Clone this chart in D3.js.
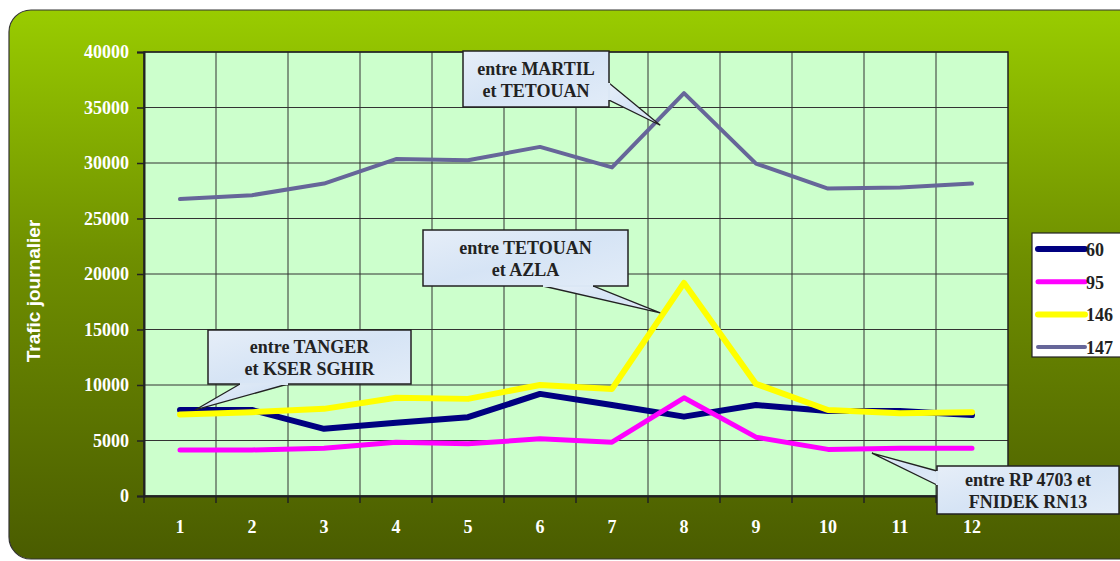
<!DOCTYPE html>
<html>
<head>
<meta charset="utf-8">
<script src="https://cdn.jsdelivr.net/npm/d3@7"></script>
<style>
  body { margin: 0; background: #fff; }
  svg { display: block; }
  .serif { font-family: 'Liberation Serif', 'Times New Roman', serif; font-weight: bold; }
  .sans { font-family: 'Liberation Sans', Arial, sans-serif; font-weight: bold; }
</style>
</head>
<body>
<div id="chart"></div>
<script>
'use strict'
// données
let categories = ['1','2','3','4','5','6','7','8','9','10','11','12'];
let seriesNames = ['60','95','146','147'];
let seriesColors = ['#000080','#ff00ff','#ffff00','#666699'];
let seriesWidths = [6, 5, 6, 4];
let route60  = [7750, 7750, 6050, 6600, 7100, 9200, 8200, 7150, 8200, 7650, 7650, 7300];
let route95  = [4150, 4150, 4300, 4850, 4700, 5150, 4850, 8850, 5300, 4200, 4300, 4300];
let route146 = [7350, 7550, 7850, 8850, 8750, 10000, 9650, 19200, 10100, 7750, 7450, 7550];
let route147 = [26750, 27100, 28150, 30350, 30250, 31450, 29600, 36300, 29950, 27700, 27800, 28150];
let yTicks = [0, 5000, 10000, 15000, 20000, 25000, 30000, 35000, 40000];
// bulles : texte, boîte, base de la pointe, pointe (position de catégorie, valeur)
let callouts = [
  {lines: ['entre MARTIL', 'et TETOUAN'], box: [463, 51, 146, 56], base: [[609, 83], [609, 100]], tip: [7.67, 33400]},
  {lines: ['entre TETOUAN', 'et AZLA'], box: [423, 230, 205, 56], base: [[543, 286], [593, 286]], tip: [7.67, 16500]},
  {lines: ['entre TANGER', 'et KSER SGHIR'], box: [208, 330, 203, 54], base: [[240, 384], [288, 384]], tip: [1.21, 7750]},
  {lines: ['entre RP 4703 et', 'FNIDEK RN13'], box: [937, 466, 182, 48], base: [[937, 471], [937, 485]], tip: [10.61, 3870]}
];
let allSeries = [route60, route95, route146, route147];

let W = 1120, H = 561;
let margin = {top: 52, right: 112, bottom: 65, left: 144};
let width = W - margin.left - margin.right;   // 864
let height = H - margin.top - margin.bottom;  // 444

let svg = d3.select('#chart').append('svg')
  .attr('width', W).attr('height', H);

let defs = svg.append('defs');
let bg = defs.append('linearGradient').attr('id', 'bgGrad')
  .attr('x1', 0).attr('y1', 0).attr('x2', 0).attr('y2', 1);
bg.append('stop').attr('offset', '0%').attr('stop-color', '#99cc00');
bg.append('stop').attr('offset', '45%').attr('stop-color', '#6f8f00');
bg.append('stop').attr('offset', '100%').attr('stop-color', '#4a5c00');

let cg = defs.append('linearGradient').attr('id', 'calloutGrad')
  .attr('x1', 0).attr('y1', 0).attr('x2', 1).attr('y2', 1);
cg.append('stop').attr('offset', '0%').attr('stop-color', '#e6eef8');
cg.append('stop').attr('offset', '50%').attr('stop-color', '#d6e4f5');
cg.append('stop').attr('offset', '100%').attr('stop-color', '#e2ecf8');

// cadre arrondi
svg.append('rect')
  .attr('x', 9).attr('y', 10)
  .attr('width', 1140).attr('height', 549)
  .attr('rx', 22).attr('ry', 22)
  .attr('fill', 'url(#bgGrad)')
  .attr('stroke', '#333').attr('stroke-width', 1.2);

let g = svg.append('g')
  .attr('transform', 'translate(' + margin.left + ',' + margin.top + ')');

let x = d3.scaleBand().domain(categories).range([0, width]);
let y = d3.scaleLinear().domain([0, 40000]).range([height, 0]);
let xPos = function(i) { return x(categories[i]) + x.bandwidth() / 2; };
let xAt = function(pos) { return x(categories[0]) + x.bandwidth() / 2 + (pos - 1) * x.bandwidth(); };

g.append('rect')
  .attr('width', width).attr('height', height)
  .attr('fill', '#ccffcc');

// grille horizontale
g.selectAll('.hgrid')
  .data(yTicks)
  .enter().append('line')
  .attr('class', 'hgrid')
  .attr('x1', 0).attr('x2', width)
  .attr('y1', function(d) { return y(d); })
  .attr('y2', function(d) { return y(d); })
  .attr('stroke', '#333').attr('stroke-width', 1);

// grille verticale
g.selectAll('.vgrid')
  .data(categories.slice(1))
  .enter().append('line')
  .attr('class', 'vgrid')
  .attr('x1', function(d) { return x(d); })
  .attr('x2', function(d) { return x(d); })
  .attr('y1', 0).attr('y2', height)
  .attr('stroke', '#333').attr('stroke-width', 1);

g.append('rect')
  .attr('width', width).attr('height', height)
  .attr('fill', 'none')
  .attr('stroke', '#222').attr('stroke-width', 1.5);

let yAxis = d3.axisLeft(y).tickValues(yTicks).tickSize(7).tickPadding(8).tickFormat(d3.format('d'));
let yAxisG = g.append('g').call(yAxis);
yAxisG.attr('font-family', null).attr('font-size', null);
yAxisG.select('.domain').attr('stroke', '#222').attr('stroke-width', 2);
yAxisG.selectAll('line').attr('stroke', '#222').attr('stroke-width', 1.5);
yAxisG.selectAll('text')
  .attr('class', 'serif')
  .attr('fill', '#ffffff')
  .style('font-size', '18px');

let xAxis = d3.axisBottom(x).tickSize(0).tickPadding(24);
let xAxisG = g.append('g').attr('transform', 'translate(0,' + height + ')').call(xAxis);
xAxisG.attr('font-family', null).attr('font-size', null);
xAxisG.select('.domain').attr('stroke', '#222').attr('stroke-width', 2);
xAxisG.selectAll('text')
  .attr('class', 'serif')
  .attr('fill', '#ffffff')
  .style('font-size', '18px');
// petits traits sous l'axe x
g.selectAll('.xtick')
  .data(categories.concat(['end']))
  .enter().append('line')
  .attr('class', 'xtick')
  .attr('x1', function(d, i) { return i * x.bandwidth(); })
  .attr('x2', function(d, i) { return i * x.bandwidth(); })
  .attr('y1', height).attr('y2', height + 7)
  .attr('stroke', '#222').attr('stroke-width', 1.5);

// courbes
let line = d3.line()
  .x(function(d, i) { return xPos(i); })
  .y(function(d) { return y(d); });

allSeries.forEach(function(s, k) {
  g.append('path')
    .datum(s)
    .attr('fill', 'none')
    .attr('stroke', seriesColors[k])
    .attr('stroke-width', seriesWidths[k])
    .attr('stroke-linejoin', 'round')
    .attr('stroke-linecap', 'round')
    .attr('d', line);
});

// bulles
callouts.forEach(function(c) {
  let bx = c.box[0], by = c.box[1], bw = c.box[2], bh = c.box[3];
  let tx = margin.left + xAt(c.tip[0]);
  let ty = margin.top + y(c.tip[1]);
  svg.append('polygon')
    .attr('points', [c.base[0], [tx, ty], c.base[1]].map(function(p) { return p.join(','); }).join(' '))
    .attr('fill', 'url(#calloutGrad)')
    .attr('stroke', '#222').attr('stroke-width', 1.3);
  svg.append('rect')
    .attr('x', bx).attr('y', by).attr('width', bw).attr('height', bh)
    .attr('fill', 'url(#calloutGrad)')
    .attr('stroke', '#222').attr('stroke-width', 1.5);
  // efface le bord de la boîte entre les deux points de base
  svg.append('line')
    .attr('x1', c.base[0][0]).attr('y1', c.base[0][1])
    .attr('x2', c.base[1][0]).attr('y2', c.base[1][1])
    .attr('stroke', '#dbe7f5').attr('stroke-width', 2.2);
  c.lines.forEach(function(t, j) {
    svg.append('text')
      .attr('class', 'serif')
      .attr('x', bx + bw / 2)
      .attr('y', by + bh / 2 + (j === 0 ? -4 : 18))
      .attr('text-anchor', 'middle')
      .attr('fill', '#222')
      .style('font-size', '18px')
      .text(t);
  });
});

// légende
let legend = svg.append('g').attr('transform', 'translate(1032,233)');
legend.append('rect')
  .attr('width', 100).attr('height', 124)
  .attr('fill', '#ffffff')
  .attr('stroke', '#222').attr('stroke-width', 1.2);
seriesNames.forEach(function(n, k) {
  let ly = 16 + k * 32.7;
  legend.append('line')
    .attr('x1', 6).attr('x2', 53)
    .attr('y1', ly).attr('y2', ly)
    .attr('stroke', seriesColors[k])
    .attr('stroke-width', seriesWidths[k])
    .attr('stroke-linecap', 'round');
  legend.append('text')
    .attr('class', 'serif')
    .attr('x', 54).attr('y', ly + 7)
    .attr('fill', '#222')
    .style('font-size', '18px')
    .text(n);
});

// titre axe y
svg.append('text')
  .attr('class', 'sans')
  .attr('transform', 'translate(40,291) rotate(-90)')
  .attr('text-anchor', 'middle')
  .attr('fill', '#ffffff')
  .style('font-size', '19px')
  .text('Trafic journalier');
</script>
</body>
</html>
